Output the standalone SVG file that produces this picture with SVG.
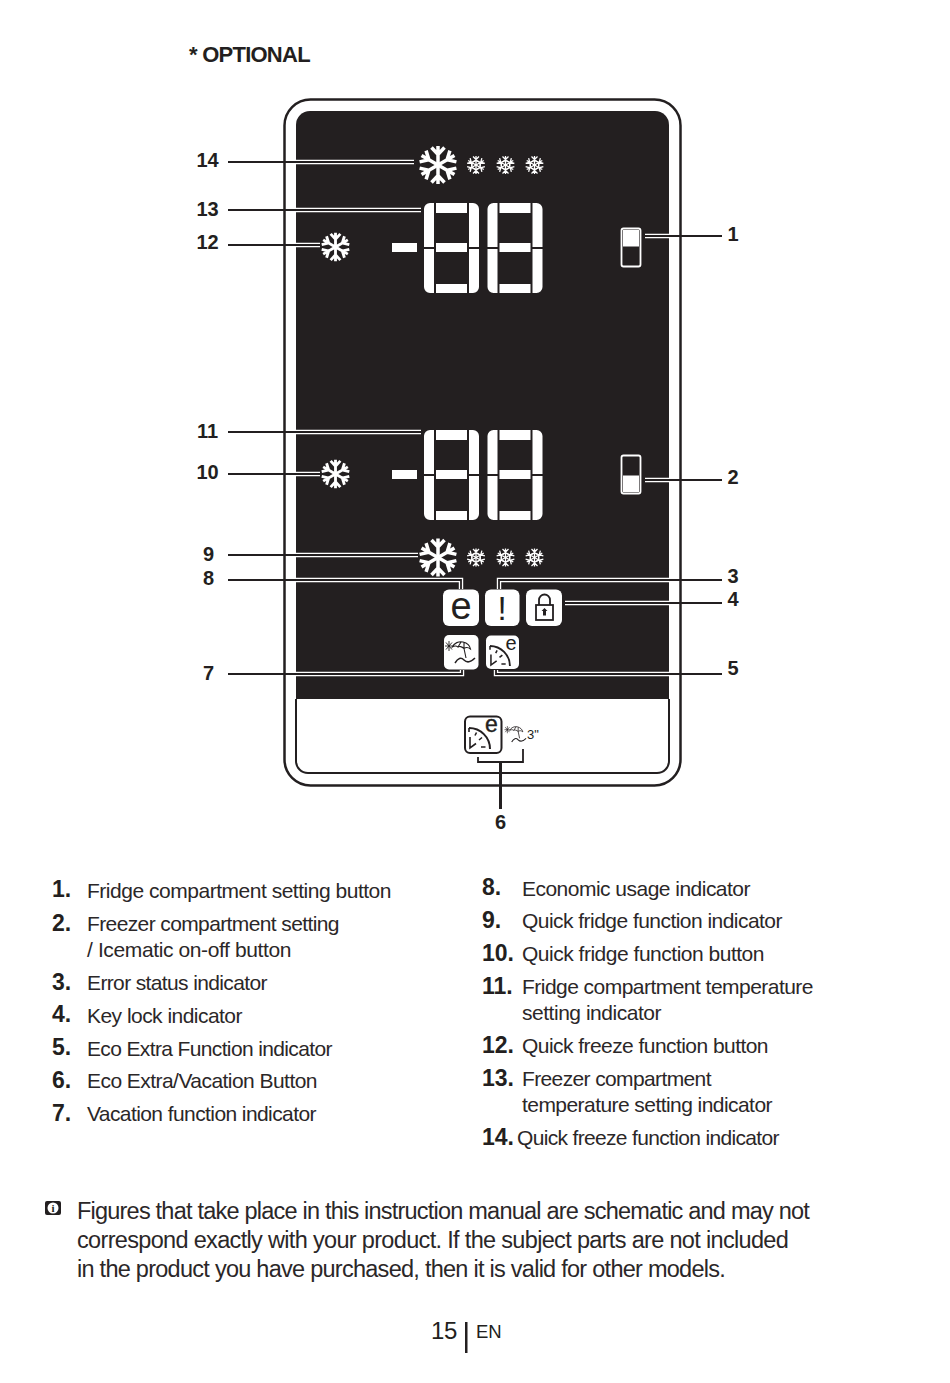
<svg xmlns="http://www.w3.org/2000/svg" width="950" height="1383" viewBox="0 0 950 1383">
<style>
text{font-family:"Liberation Sans",Arial,sans-serif;fill:#231f20}
.n{font-size:20px;font-weight:700;text-anchor:middle}
.h{font-size:23px;font-weight:700}
.o{font-size:22px;font-weight:700;letter-spacing:-.75px}
.t{font-size:21px;letter-spacing:-.5px;fill:#2b2728}
.f{font-size:23.500px;letter-spacing:-.8px;fill:#2b2728}
.seg{fill:#fff}
.ldw{fill:none;stroke:#fff;stroke-width:4.400}
.ldb{fill:none;stroke:#231f20;stroke-width:1.800}
.sn{fill:none;stroke:#fff}
.ib{fill:#fff}
</style>
<defs>
<g id="flake">
<g id="arm"><path d="M0 0V-19M-6.500 -17.500L0 -10.500L6.500 -17.500"/></g>
<use href="#arm" transform="rotate(60)"/><use href="#arm" transform="rotate(120)"/><use href="#arm" transform="rotate(180)"/><use href="#arm" transform="rotate(240)"/><use href="#arm" transform="rotate(300)"/>
</g>
<g id="flakeS">
<g id="armS"><path d="M0 0V-9M-3 -8.500L0 -5.500L3 -8.500M-3 -3L0 -5L3 -3"/></g>
<use href="#armS" transform="rotate(60)"/><use href="#armS" transform="rotate(120)"/><use href="#armS" transform="rotate(180)"/><use href="#armS" transform="rotate(240)"/><use href="#armS" transform="rotate(300)"/>
</g>
<g id="digit" class="seg">
<path d="M430 203h4v44h-10v-38a6 6 0 0 1 6-6zM424 249h10v44h-4a6 6 0 0 1-6-6z"/>
<path d="M469 203h4a6 6 0 0 1 6 6v38h-10zM469 249h10v38a6 6 0 0 1-6 6h-4z"/>
<rect x="436" y="203" width="31" height="10"/><rect x="436" y="243" width="31" height="9"/><rect x="436" y="284" width="31" height="9"/>
</g>
<g id="display">
<rect class="seg" x="392" y="243" width="25" height="9"/>
<use href="#digit"/><use href="#digit" x="63.500"/>
</g>
<g id="row">
<use href="#flake" class="sn" stroke-width="3.500" transform="translate(438 165)"/>
<use href="#flakeS" class="sn" stroke-width="1.300" transform="translate(476 165)"/>
<use href="#flakeS" class="sn" stroke-width="1.300" transform="translate(505.500 165)"/>
<use href="#flakeS" class="sn" stroke-width="1.300" transform="translate(534.500 165)"/>
</g>
<g id="gauge" fill="none" stroke="#231f20">
<path d="M0 -21A21 21 0 0 1 21 0" stroke-width="2"/>
<path d="M0 -21V-17M7.500 -16.500L6 -13.500M13 -11.500L10 -9M16.500 -2H12M1 -12V-1L7 -5.500" stroke-width="1.600"/>
</g>
<g id="umb" fill="none" stroke="#231f20">
<path d="M-8.700 -5C-7 -9 -2 -11 2 -10C6 -9 9 -6 9.500 -3C7 -5 5 -5 3 -3.500C1 -5.500 -2 -6 -3 -5C-5 -6.500 -7 -6 -8.700 -5ZM0 -10L-3 -5M3 -9.500L3 -3.500M3 -3.500L5 6" stroke-width="1.100"/>
<path d="M-16 -6H-8M-12 -11V-1M-15 -9.500L-9 -2.500M-9 -9.500L-15 -2.500" stroke-width=".9"/>
<path d="M-6 11C-3 6 0 5 3 8C6 11 10 10 14 6" stroke-width="1.500"/>
</g>
<clipPath id="panel"><path d="M296 699V125a14 14 0 0 1 14-14H655a14 14 0 0 1 14 14V699Z"/></clipPath>
</defs>
<rect width="950" height="1383" fill="#fff"/>
<text id="optional" class="o" x="189" y="61.500">* OPTIONAL</text>
<g id="device">
<rect x="284.500" y="99.500" width="396" height="686" rx="26" fill="#fff" stroke="#231f20" stroke-width="2.500"/>
<path d="M296 699V125a14 14 0 0 1 14-14H655a14 14 0 0 1 14 14V699Z" fill="#231f20"/>
<path d="M296 699V761a12 12 0 0 0 12 12H657a12 12 0 0 0 12-12V699" fill="#fff" stroke="#231f20" stroke-width="2"/>
</g>
<g id="node-14"><use href="#row"/></g>
<g id="node-13"><use href="#display"/></g>
<g id="node-12"><use href="#flake" class="sn" stroke-width="3.800" transform="translate(335.500 247) scale(.75)"/></g>
<g id="node-11"><use href="#display" y="227"/></g>
<g id="node-10"><use href="#flake" class="sn" stroke-width="3.800" transform="translate(335.500 474) scale(.75)"/></g>
<g id="node-9"><use href="#row" y="392.500"/></g>
<g id="node-1"><rect x="621.500" y="228.500" width="19" height="38" rx="2" fill="none" stroke="#fff" stroke-width="1.800"/><rect x="623" y="230" width="16" height="16.500" fill="#fff"/></g>
<g id="node-2"><rect x="621.500" y="455.500" width="19" height="38" rx="2" fill="none" stroke="#fff" stroke-width="1.800"/><rect x="623" y="475.500" width="16" height="16.500" fill="#fff"/></g>
<g id="node-8"><rect class="ib" x="443" y="589.500" width="36" height="36.500" rx="6"/><text x="461" y="619" font-size="38" text-anchor="middle">e</text></g>
<g id="node-3"><rect class="ib" x="485" y="589.500" width="34.500" height="36.500" rx="6"/><text x="502" y="620" font-size="33" text-anchor="middle">!</text></g>
<g id="node-4"><rect class="ib" x="526" y="589.500" width="36" height="36.500" rx="6"/><rect x="536" y="605" width="17" height="15" fill="none" stroke="#231f20" stroke-width="1.800"/><path d="M539 605V600a5.500 5.500 0 0 1 11 0V605" fill="none" stroke="#231f20" stroke-width="1.800"/><path d="M543 615.500h3V611h1.500l-3-3-3 3H543z" fill="#231f20"/></g>
<g id="node-7"><rect class="ib" x="444" y="635" width="34.500" height="34.500" rx="5"/><use href="#umb" transform="translate(461 652)"/></g>
<g id="node-5"><rect class="ib" x="486" y="635.500" width="33" height="33.500" rx="5"/><use href="#gauge" transform="translate(490 666) scale(.95)"/><text x="511" y="650" font-size="20" text-anchor="middle">e</text></g>
<g id="node-6">
<rect x="465" y="716.500" width="36.500" height="36.500" rx="5" fill="#fff" stroke="#231f20" stroke-width="2"/>
<use href="#gauge" transform="translate(469 749)"/>
<text x="491.500" y="732" font-size="23" text-anchor="middle" stroke="#231f20" stroke-width=".4">e</text>
<use href="#umb" transform="translate(516 734) scale(.72)"/>
<text x="527" y="739" font-size="13">3"</text>
</g>
<g id="connectors">
<g clip-path="url(#panel)"><path class="ldw" d="M228 162H414M228 210H421M228 245H320M228 432H421M228 474H320M228 555H418M228 580H461V589M499 589V580H722M565 603H722M228 674H462V670M496 670V674H722M645 236H722M645 480H722"/></g>
<path class="ldb" d="M228 162H414M228 210H421M228 245H320M228 432H421M228 474H320M228 555H418M228 580H461V589M499 589V580H722M565 603H722M228 674H462V670M496 670V674H722M645 236H722M645 480H722"/>
<path d="M478 757V762H523V749" fill="none" stroke="#231f20" stroke-width="1.800"/>
<path d="M500.500 762V809" fill="none" stroke="#231f20" stroke-width="3"/>
</g>
<g id="numbers">
<text class="n" x="207.500" y="167">14</text><text class="n" x="207.500" y="216">13</text><text class="n" x="207.500" y="249">12</text><text class="n" x="207.500" y="438">11</text><text class="n" x="207.500" y="479">10</text><text class="n" x="208.500" y="561">9</text><text class="n" x="208.500" y="585">8</text><text class="n" x="208.500" y="680">7</text>
<text class="n" x="733" y="241">1</text><text class="n" x="733" y="484">2</text><text class="n" x="733" y="583">3</text><text class="n" x="733" y="606">4</text><text class="n" x="733" y="675">5</text><text class="n" x="500.500" y="829">6</text>
</g>
<g id="legend">
<text class="h" x="52" y="897">1.</text><text class="t" x="87" y="898" textLength="304">Fridge compartment setting button</text>
<text class="h" x="52" y="931">2.</text><text class="t" x="87" y="931" textLength="252">Freezer compartment setting</text><text class="t" x="87" y="957" textLength="204">/ Icematic on-off button</text>
<text class="h" x="52" y="990">3.</text><text class="t" x="87" y="990" textLength="180">Error status indicator</text>
<text class="h" x="52" y="1022">4.</text><text class="t" x="87" y="1023" textLength="155">Key lock indicator</text>
<text class="h" x="52" y="1055">5.</text><text class="t" x="87" y="1056" textLength="245">Eco Extra Function indicator</text>
<text class="h" x="52" y="1088">6.</text><text class="t" x="87" y="1088" textLength="230">Eco Extra/Vacation Button</text>
<text class="h" x="52" y="1121">7.</text><text class="t" x="87" y="1121" textLength="229">Vacation function indicator</text>
<text class="h" x="482" y="895">8.</text><text class="t" x="522" y="896" textLength="228">Economic usage indicator</text>
<text class="h" x="482" y="928">9.</text><text class="t" x="522" y="928" textLength="260">Quick fridge function indicator</text>
<text class="h" x="482" y="961">10.</text><text class="t" x="522" y="961" textLength="242">Quick fridge function button</text>
<text class="h" x="482" y="994">11.</text><text class="t" x="522" y="994" textLength="291">Fridge compartment temperature</text><text class="t" x="522" y="1020" textLength="139">setting indicator</text>
<text class="h" x="482" y="1053">12.</text><text class="t" x="522" y="1053" textLength="246">Quick freeze function button</text>
<text class="h" x="482" y="1086">13.</text><text class="t" x="522" y="1086" textLength="189">Freezer compartment</text><text class="t" x="522" y="1112" textLength="250">temperature setting indicator</text>
<text class="h" x="482" y="1145">14.</text><text class="t" x="517" y="1145" textLength="262">Quick freeze function indicator</text>
</g>
<g id="note">
<rect x="45" y="1201" width="16" height="14" rx="2" fill="#231f20"/><circle cx="53" cy="1208" r="5.500" fill="#fff"/><text x="53" y="1212" font-size="11" font-weight="700" text-anchor="middle" style="font-family:'Liberation Serif',serif">i</text>
<text class="f" x="77" y="1218.500" textLength="732">Figures that take place in this instruction manual are schematic and may not</text>
<text class="f" x="77" y="1247.500" textLength="711">correspond exactly with your product. If the subject parts are not included</text>
<text class="f" x="77" y="1276.500" textLength="648">in the product you have purchased, then it is valid for other models.</text>
</g>
<g id="footer">
<text x="431" y="1339" font-size="24" letter-spacing="-.3">15</text>
<rect x="465" y="1322" width="2.500" height="31" fill="#231f20"/>
<text x="476" y="1338" font-size="18.500">EN</text>
</g>
</svg>
